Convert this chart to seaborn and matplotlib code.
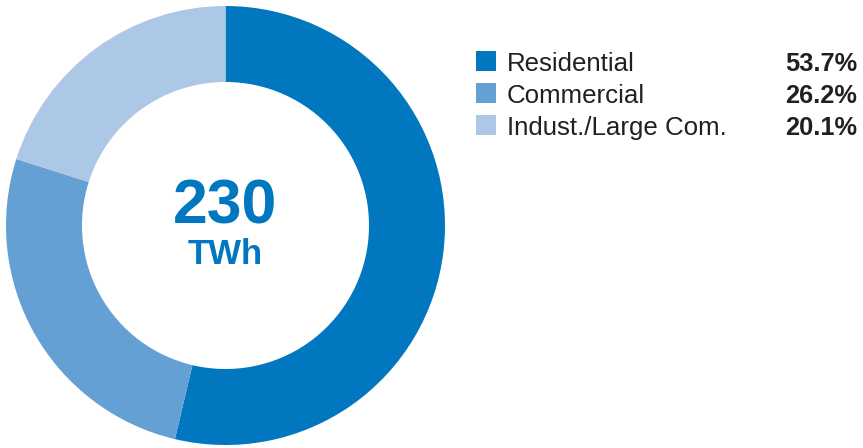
import matplotlib
matplotlib.use("Agg")
import matplotlib.pyplot as plt
from matplotlib.patches import Rectangle
import seaborn as sns

categories = ["Residential", "Commercial", "Indust./Large Com."]
shares = [53.7, 26.2, 20.1]
colors = ["#0077BE", "#65A0D5", "#ADC8E6"]
total_value = "230"
total_unit = "TWh"

sns.set_theme(style="white")
plt.rcParams["font.family"] = ["Liberation Sans", "DejaVu Sans"]

W, H = 863, 448
fig = plt.figure(figsize=(W / 100, H / 100), dpi=100)
fig.patch.set_facecolor("white")

cx, cy, r = 225.5, 225.5, 219.5
ax = fig.add_axes([(cx - r) / W, (H - cy - r) / H, 2 * r / W, 2 * r / H])
ax.pie(shares, colors=colors, startangle=90, counterclock=False,
       radius=1.0, wedgeprops=dict(width=1 - 143.5 / 219.5, linewidth=0))
ax.set_xlim(-1, 1)
ax.set_ylim(-1, 1)
ax.set_aspect("equal")
ax.axis("off")

ax.text(0, 2.5 / r, total_value, ha="center", va="baseline", fontsize=45,
        fontweight="bold", color=colors[0])
ax.text(0, -38.5 / r, total_unit, ha="center", va="baseline", fontsize=25,
        fontweight="bold", color=colors[0])

text_color = "#231F20"
baselines = [70.7, 102.7, 134.7]
for name, val, col, y in zip(categories, shares, colors, baselines):
    fig.patches.append(Rectangle((476 / W, (H - y) / H), 20 / W, 20 / H,
                                 transform=fig.transFigure, color=col, lw=0))
    fig.text(507 / W, (H - y) / H, name, ha="left", va="baseline",
             fontsize=18.6, color=text_color)
    fig.text(857 / W, (H - y) / H, f"{val:.1f}%", ha="right",
             va="baseline", fontsize=18.3, fontweight="bold",
             color=text_color)

fig.savefig("out.png", dpi=100, facecolor="white")
